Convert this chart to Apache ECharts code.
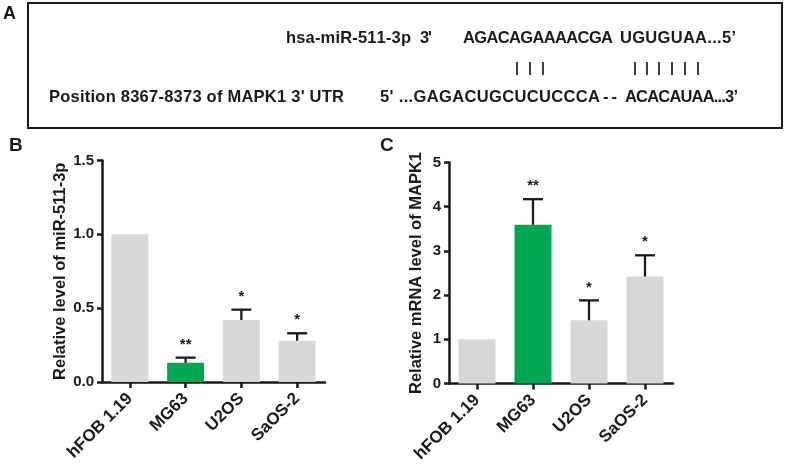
<!DOCTYPE html>
<html>
<head>
<meta charset="utf-8">
<script src="https://cdn.jsdelivr.net/npm/echarts@6/dist/echarts.min.js"></script>
<style>
html,body{margin:0;padding:0;background:#fff;}
#chart{width:787px;height:468px;}
</style>
</head>
<body>
<div id="chart"></div>
<script>
// ---- data ----
const categories = ['hFOB 1.19', 'MG63', 'U2OS', 'SaOS-2'];
const mirMean = [1.0, 0.13, 0.42, 0.28];
const mirUpper = [null, 0.165, 0.49, 0.33];
const mapkMean = [1.0, 3.59, 1.43, 2.42];
const mapkUpper = [null, 4.17, 1.88, 2.90];
const stars = ['', '**', '*', '*'];
const mirName = 'Relative level of miR-511-3p';
const mapkName = 'Relative mRNA level of MAPK1';
const mirRange = [0, 1.5, 0.5];
const mapkRange = [0, 5, 1];
const highlightIndex = 1;
const mirnaLabel = 'hsa-miR-511-3p';
const mirnaSeqA = 'AGACAGAAAACGA';
const mirnaSeqB = 'UGUGUAA...5\u2019';
const targetLabel = 'Position 8367-8373 of MAPK1 3\' UTR';
const targetSeqA = '5\' ...GAGACUGCUCUCCCA';
const targetGap = '- -';
const targetSeqB = 'ACACAUAA...3\u2019';

const FONT = '"Liberation Sans", Arial, Helvetica, sans-serif';
const INK = '#1a1a1a';
const GRAY = '#d8d8da';
const GREEN = '#00a651';

function barData(vals) {
  return vals.map((v, i) => ({ value: v, itemStyle: { color: i === highlightIndex ? GREEN : GRAY } }));
}
function errData(mean, upper) {
  return mean.map((m, i) => [i, m, upper[i] == null ? m : upper[i]]);
}
function errRender(params, api) {
  const i = api.value(0);
  const m = api.value(1);
  const u = api.value(2);
  const s = stars[i];
  const p0 = api.coord([i, m]);
  const p1 = api.coord([i, u]);
  const children = [];
  if (u > m) {
    children.push({ type: 'line', shape: { x1: p0[0], y1: p0[1], x2: p1[0], y2: p1[1] }, style: { stroke: INK, lineWidth: 2.3 } });
    children.push({ type: 'line', shape: { x1: p1[0] - 10, y1: p1[1], x2: p1[0] + 10, y2: p1[1] }, style: { stroke: INK, lineWidth: 2.3 } });
  }
  if (s) {
    children.push({ type: 'text', x: p1[0], y: p1[1] - 13, style: { text: s, font: 'bold 15px ' + FONT, fill: INK, align: 'center', verticalAlign: 'middle' } });
  }
  return { type: 'group', children: children };
}

function yAxis(gridIndex, range, name, gap, fmt) {
  return {
    gridIndex: gridIndex, type: 'value', min: range[0], max: range[1], interval: range[2],
    name: name, nameLocation: 'middle', nameGap: gap,
    nameTextStyle: { fontFamily: FONT, fontWeight: 'bold', fontSize: 16.5, color: INK },
    axisLine: { show: true, lineStyle: { color: INK, width: 2.5 } },
    axisTick: { show: true, length: 5, lineStyle: { color: INK, width: 2.5 } },
    axisLabel: { fontFamily: FONT, fontWeight: 'bold', fontSize: 15, color: INK, margin: 8, formatter: fmt },
    splitLine: { show: false }
  };
}
function xAxis(gridIndex) {
  return {
    gridIndex: gridIndex, type: 'category', data: categories,
    axisLine: { show: true, lineStyle: { color: INK, width: 2.5 } },
    axisTick: { show: true, alignWithLabel: true, length: 6, lineStyle: { color: INK, width: 2.5 } },
    axisLabel: { rotate: 45, interval: 0, fontFamily: FONT, fontWeight: 'bold', fontSize: 17, color: INK, margin: 14 }
  };
}

// text spread to fit a given span
const mctx = document.createElement('canvas').getContext('2d');
function fitText(t, x0, x1, y, size) {
  const font = 'bold ' + size + 'px ' + FONT;
  mctx.font = font;
  const chars = Array.from(t);
  const ws = chars.map(c => mctx.measureText(c).width);
  const total = ws.reduce((a, b) => a + b, 0);
  const extra = chars.length > 1 ? (x1 - x0 - total) / (chars.length - 1) : 0;
  let x = x0;
  const children = [];
  chars.forEach((c, k) => {
    if (c !== ' ') children.push({ type: 'text', x: x, y: y, style: { text: c, font: font, fill: INK, align: 'left', verticalAlign: 'middle' } });
    x += ws[k] + extra;
  });
  return { type: 'group', children: children };
}
const txt = (t, x, y, size) => ({
  type: 'text', x: x, y: y,
  style: { text: t, font: 'bold ' + size + 'px ' + FONT, fill: INK, align: 'left', verticalAlign: 'middle' }
});
function pairBars(xs, y0, y1) {
  return xs.map(x => ({ type: 'line', shape: { x1: x, y1: y0, x2: x, y2: y1 }, style: { stroke: INK, lineWidth: 1.7 } }));
}

const chart = echarts.init(document.getElementById('chart'), null, { renderer: 'canvas' });
chart.setOption({
  animation: false,
  backgroundColor: '#fff',
  grid: [
    { left: 102, top: 160.5, width: 223, height: 221.5 },
    { left: 449, top: 162.5, width: 224, height: 221 }
  ],
  xAxis: [xAxis(0), xAxis(1)],
  yAxis: [
    yAxis(0, mirRange, mirName, 33, v => v.toFixed(1)),
    yAxis(1, mapkRange, mapkName, 24, v => String(v))
  ],
  series: [
    { type: 'bar', xAxisIndex: 0, yAxisIndex: 0, barWidth: 37, data: barData(mirMean), z: 2 },
    { type: 'custom', xAxisIndex: 0, yAxisIndex: 0, data: errData(mirMean, mirUpper), renderItem: errRender, z: 3 },
    { type: 'bar', xAxisIndex: 1, yAxisIndex: 1, barWidth: 37, data: barData(mapkMean), z: 2 },
    { type: 'custom', xAxisIndex: 1, yAxisIndex: 1, data: errData(mapkMean, mapkUpper), renderItem: errRender, z: 3 }
  ],
  graphic: [
    { type: 'rect', shape: { x: 28, y: 3, width: 754, height: 125 }, style: { fill: 'none', stroke: INK, lineWidth: 2 } },
    txt('A', 3, 14, 18),
    txt('B', 9, 146, 19),
    txt('C', 380, 146, 19),
    fitText(mirnaLabel, 286, 411, 38, 16.5),
    fitText('3\'', 420, 432, 38, 16.5),
    fitText(mirnaSeqA, 463, 613, 38, 16.5),
    fitText(mirnaSeqB, 620, 736, 38, 16.5),
    fitText(targetLabel, 49, 344, 97, 16.5),
    fitText(targetSeqA, 380, 600, 97, 16.5),
    fitText(targetGap, 603, 617, 97, 16.5),
    fitText(targetSeqB, 625, 738, 97, 16.5)
  ].concat(pairBars([517, 530, 543, 635, 647, 659, 672, 685, 698], 62, 75))
});
</script>
</body>
</html>
